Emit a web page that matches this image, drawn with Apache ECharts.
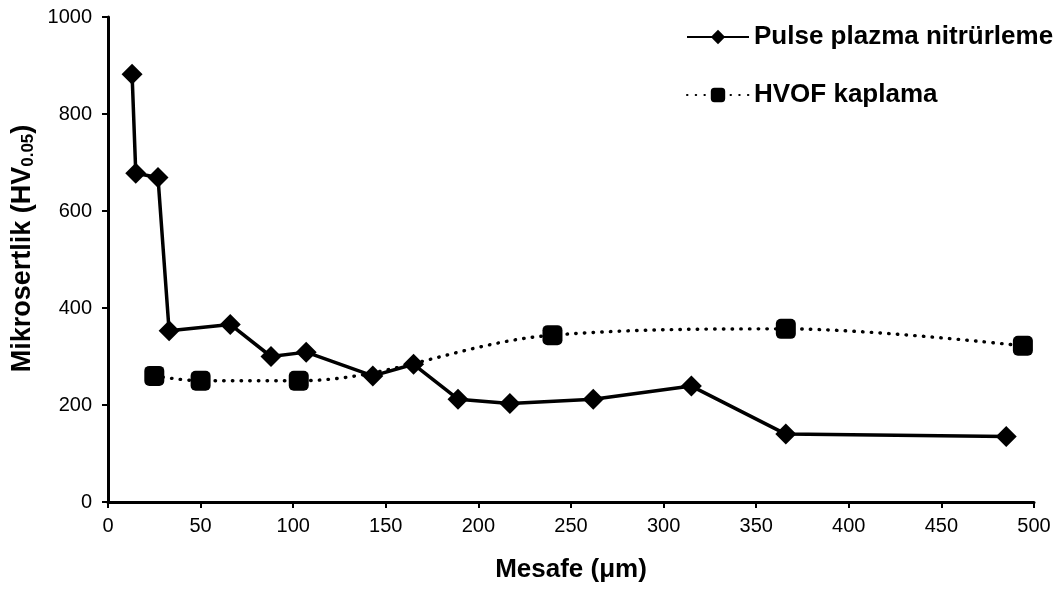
<!DOCTYPE html>
<html>
<head>
<meta charset="utf-8">
<script src="https://cdn.jsdelivr.net/npm/echarts@6/dist/echarts.min.js"></script>
<style>
	html, body { margin: 0; padding: 0; background: #fff; }
	#main { width: 1061px; height: 589px; }
</style>
</head>
<body>
<div id="main"></div>
<script>
// Pulse plazma nitrürleme
var pulseX = [13, 15, 27, 33, 66, 88, 107, 143, 165, 189, 217, 262, 315, 366, 485];
var pulseY = [882, 678, 669, 353, 366, 300, 309, 260, 284, 212, 203, 212, 239, 140, 135];
// HVOF kaplama
var hvofX = [25, 50, 103, 240, 366, 494];
var hvofY = [260, 250, 250, 344, 357, 322];

var seriesNames = ['Pulse plazma nitrürleme', 'HVOF kaplama'];

function pairs(xs, ys) {
	var out = [];
	for (var i = 0; i < xs.length; i++) out.push([xs[i], ys[i]]);
	return out;
}

var font = 'Arial, "Liberation Sans", sans-serif';
var myChart = echarts.init(document.getElementById('main'));
var option = {
	backgroundColor: '#fff',
	animation: false,
	textStyle: { fontFamily: font },
	grid: { left: 108, right: 27, top: 17, bottom: 87 },
	legend: {
		orient: 'vertical',
		left: 681,
		top: 19,
		itemWidth: 62,
		itemHeight: 18,
		itemGap: 32,
		data: seriesNames,
		textStyle: { fontSize: 26, fontWeight: 'bold', color: '#000', fontFamily: font }
	},
	xAxis: {
		type: 'value',
		min: 0,
		max: 500,
		interval: 50,
		name: 'Mesafe (μm)',
		nameLocation: 'middle',
		nameGap: 55,
		nameTextStyle: { fontSize: 26, fontWeight: 'bold', color: '#000' },
		axisLine: { lineStyle: { color: '#000', width: 3 } },
		axisTick: { show: true, length: 6, lineStyle: { color: '#000', width: 2 } },
		axisLabel: { fontSize: 20, color: '#000', margin: 14 },
		splitLine: { show: false }
	},
	yAxis: {
		type: 'value',
		min: 0,
		max: 1000,
		interval: 200,
		name: '{a|Mikrosertlik (HV}{s|0.05}{a|)}',
		nameLocation: 'middle',
		nameGap: 67,
		nameRotate: 90,
		nameTextStyle: {
			padding: [0, 0, 0, 22],
			rich: {
				a: { fontSize: 27, fontWeight: 'bold', color: '#000', fontFamily: font },
				s: { fontSize: 17, fontWeight: 'bold', color: '#000', fontFamily: font, verticalAlign: 'bottom', padding: [12, 0, 0, 0] }
			}
		},
		axisLine: { show: true, lineStyle: { color: '#000', width: 3 } },
		axisTick: { show: true, inside: false, length: 6, lineStyle: { color: '#000', width: 2 } },
		axisLabel: { fontSize: 20, color: '#000', margin: 16, formatter: function(v) { return String(v); } },
		splitLine: { show: false }
	},
	series: [{
		name: seriesNames[0],
		type: 'line',
		data: pairs(pulseX, pulseY),
		symbol: 'diamond',
		symbolSize: 21,
		itemStyle: { color: '#000' },
		lineStyle: { color: '#000', width: 3.5 }
	}, {
		name: seriesNames[1],
		type: 'line',
		data: pairs(hvofX, hvofY),
		smooth: 0.35,
		symbol: 'roundRect',
		symbolSize: 20,
		itemStyle: { color: '#000' },
		lineStyle: { color: '#000', width: 3.4, type: [0.5, 8.2], cap: 'round' }
	}]
};
myChart.setOption(option);
</script>
</body>
</html>
